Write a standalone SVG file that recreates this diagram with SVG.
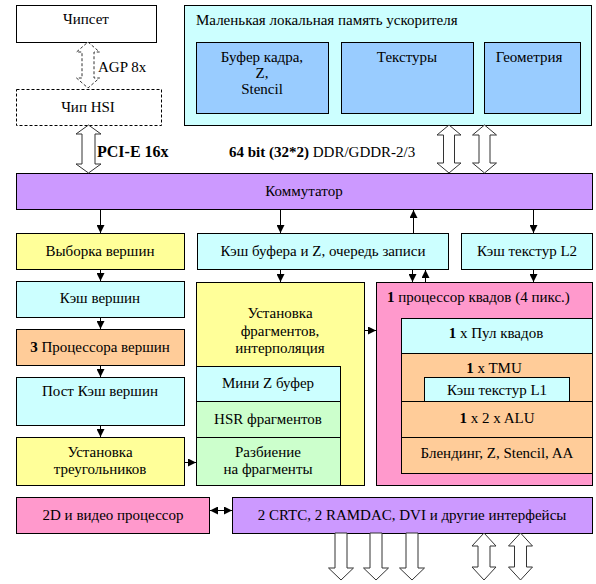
<svg xmlns="http://www.w3.org/2000/svg" width="596" height="584" viewBox="0 0 596 584">
<style>
text{font-family:'Liberation Serif','Times New Roman',serif;font-size:15px;fill:#000}
.c{text-anchor:middle}
.b{font-weight:bold}
rect{stroke:#000;stroke-width:1}
.w{fill:#fff}
.cy{fill:#ccffff}
.bl{fill:#99ccff}
.pu{fill:#cc99ff}
.ye{fill:#ffff99}
.or{fill:#ffcc99}
.gr{fill:#ccffcc}
.pk{fill:#ff99cc}
.ln{stroke:#000;stroke-width:1;fill:none}
.ba{fill:#fff;stroke:#333;stroke-width:1}
</style>
<defs>
<marker id="ah" viewBox="0 0 8 8" refX="8" refY="4" markerWidth="8" markerHeight="8" markerUnits="userSpaceOnUse" orient="auto-start-reverse">
<path d="M0,0 L8,4 L0,8 Z" fill="#000"/>
</marker>
</defs>
<g id="chipset"><rect class="w" x="16.5" y="5.5" width="140" height="37"/><text class="c" x="86" y="24">Чипсет</text></g>
<g id="hsi"><rect class="w" x="16.5" y="89.5" width="145" height="36" stroke-dasharray="3,2"/><text class="c" x="88" y="112">Чип HSI</text></g>
<g id="agp-label"><text x="98" y="72">AGP 8x</text></g>
<g id="pcie-label"><text class="b" x="97" y="157" style="font-size:16px">PCI-E 16x</text></g>
<g id="mem-label"><text x="229" y="157"><tspan class="b">64 bit (32*2)</tspan> DDR/GDDR-2/3</text></g>

<g id="memory">
<rect class="cy" x="184.5" y="5.5" width="407" height="120"/>
<text x="196" y="25">Маленькая локальная память ускорителя</text>
</g>
<g id="framebuffer"><rect class="bl" x="196.5" y="42.5" width="132" height="71"/>
<text class="c" x="262" y="62">Буфер кадра,</text><text class="c" x="262" y="78">Z,</text><text class="c" x="262" y="94">Stencil</text></g>
<g id="textures"><rect class="bl" x="341.5" y="42.5" width="132" height="71"/><text class="c" x="407" y="62">Текстуры</text></g>
<g id="geometry"><rect class="bl" x="484.5" y="42.5" width="96" height="71"/><text class="c" x="529" y="62">Геометрия</text></g>

<g id="switch"><rect class="pu" x="16.5" y="173.5" width="576" height="36"/><text class="c" x="304" y="196">Коммутатор</text></g>

<g id="vfetch"><rect class="ye" x="16.5" y="233.5" width="168" height="36"/><text class="c" x="100" y="256">Выборка вершин</text></g>
<g id="zcache"><rect class="cy" x="197.5" y="233.5" width="251" height="36"/><text class="c" x="323" y="256">Кэш буфера и Z, очередь записи</text></g>
<g id="l2"><rect class="cy" x="461.5" y="233.5" width="131" height="36"/><text class="c" x="527" y="256">Кэш текстур L2</text></g>

<g id="vcache"><rect class="cy" x="16.5" y="281.5" width="168" height="36"/><text class="c" x="100" y="303">Кэш вершин</text></g>
<g id="vproc"><rect class="or" x="16.5" y="329.5" width="168" height="36"/><text class="c" x="100" y="352"><tspan class="b">3</tspan> Процессора вершин</text></g>
<g id="postcache"><rect class="cy" x="16.5" y="377.5" width="168" height="48"/><text class="c" x="100" y="396">Пост Кэш вершин</text></g>
<g id="trisetup"><rect class="ye" x="16.5" y="437.5" width="168" height="48"/><text class="c" x="100" y="457">Установка</text><text class="c" x="100" y="474">треугольников</text></g>

<g id="fragsetup"><rect class="ye" x="196.5" y="282.5" width="168" height="203"/>
<text class="c" x="280" y="318">Установка</text><text class="c" x="280" y="336">фрагментов,</text><text class="c" x="280" y="353">интерполяция</text></g>
<g id="miniz"><rect class="cy" x="196.5" y="366.5" width="144" height="35"/><text class="c" x="268" y="388">Мини Z буфер</text></g>
<g id="hsr"><rect class="gr" x="196.5" y="401.5" width="144" height="36"/><text class="c" x="268" y="424">HSR фрагментов</text></g>
<g id="raster"><rect class="gr" x="196.5" y="437.5" width="144" height="48"/><text class="c" x="268" y="457">Разбиение</text><text class="c" x="268" y="474">на фрагменты</text></g>

<g id="quadproc"><rect class="pk" x="376.5" y="282.5" width="216" height="203"/><text x="387" y="302"><tspan class="b">1</tspan> процессор квадов (4 пикс.)</text></g>
<g id="quadpool"><rect class="cy" x="401.5" y="318.5" width="191" height="35"/><text class="c" x="496" y="338"><tspan class="b">1</tspan> x Пул квадов</text></g>
<g id="tmu"><rect class="or" x="401.5" y="353.5" width="191" height="48"/><text class="c" x="494" y="373"><tspan class="b">1</tspan> x TMU</text></g>
<g id="l1"><rect class="cy" x="424.5" y="377.5" width="145" height="24"/><text class="c" x="497" y="395">Кэш текстур L1</text></g>
<g id="alu"><rect class="or" x="401.5" y="401.5" width="191" height="36"/><text class="c" x="497" y="423"><tspan class="b">1</tspan> x 2 x ALU</text></g>
<g id="blend"><rect class="or" x="401.5" y="437.5" width="191" height="36"/><text class="c" x="497" y="458">Блендинг, Z, Stencil, AA</text></g>

<g id="video2d"><rect class="pk" x="16.5" y="497.5" width="193" height="36"/><text class="c" x="113" y="520">2D и видео процессор</text></g>
<g id="crtc"><rect class="pu" x="232.5" y="497.5" width="360" height="36"/><text class="c" x="412" y="520">2 CRTC, 2 RAMDAC, DVI и другие интерфейсы</text></g>

<g id="connectors">
<path class="ba" stroke-dasharray="3,2" d="M88,42 L99.5,52 L94,52 L94,78 L99.5,78 L88,88 L76.5,78 L82,78 L82,52 L76.5,52 Z"/>
<path class="ba" d="M88.5,125 L101,134 L95,134 L95,164 L101,164 L88.5,173 L76,164 L82,164 L82,134 L76,134 Z"/>
<path class="ba" d="M449,125 L461,135 L454.5,135 L454.5,163 L461,163 L449,173 L437,163 L443.5,163 L443.5,135 L437,135 Z"/>
<path class="ba" d="M484.5,125 L496.5,135 L490,135 L490,163 L496.5,163 L484.5,173 L472.5,163 L479,163 L479,135 L472.5,135 Z"/>
<path class="ba" d="M335,533 L347,533 L347,568 L353.5,568 L341,580 L328.5,568 L335,568 Z"/>
<path class="ba" d="M370,533 L382,533 L382,568 L388.5,568 L376,580 L363.5,568 L370,568 Z"/>
<path class="ba" d="M406,533 L418,533 L418,568 L424.5,568 L412,580 L399.5,568 L406,568 Z"/>
<path class="ba" d="M484,533 L496,546 L490,546 L490,567 L496,567 L484,580 L472,567 L478,567 L478,546 L472,546 Z"/>
<path class="ba" d="M520.5,533 L532.5,546 L526.5,546 L526.5,567 L532.5,567 L520.5,580 L508.5,567 L514.5,567 L514.5,546 L508.5,546 Z"/>

<line class="ln" x1="100.5" y1="210" x2="100.5" y2="233" marker-end="url(#ah)"/>
<line class="ln" x1="280.5" y1="210" x2="280.5" y2="233" marker-end="url(#ah)"/>
<line class="ln" x1="413.5" y1="233" x2="413.5" y2="210" marker-end="url(#ah)"/>
<line class="ln" x1="533.5" y1="210" x2="533.5" y2="233" marker-end="url(#ah)"/>
<line class="ln" x1="100.5" y1="270" x2="100.5" y2="281" marker-end="url(#ah)"/>
<line class="ln" x1="100.5" y1="318" x2="100.5" y2="329" marker-end="url(#ah)"/>
<line class="ln" x1="100.5" y1="366" x2="100.5" y2="377" marker-end="url(#ah)"/>
<line class="ln" x1="100.5" y1="426" x2="100.5" y2="437" marker-end="url(#ah)"/>
<line class="ln" x1="280.5" y1="270" x2="280.5" y2="282" marker-end="url(#ah)"/>
<line class="ln" x1="412.5" y1="270" x2="412.5" y2="282" marker-end="url(#ah)"/>
<line class="ln" x1="425.5" y1="282" x2="425.5" y2="270" marker-end="url(#ah)"/>
<line class="ln" x1="533.5" y1="270" x2="533.5" y2="282" marker-end="url(#ah)"/>
<line class="ln" x1="185" y1="462.5" x2="196" y2="462.5" marker-end="url(#ah)"/>
<line class="ln" x1="365" y1="330.5" x2="376" y2="330.5" marker-end="url(#ah)"/>
<line class="ln" x1="210" y1="510.5" x2="232" y2="510.5" marker-start="url(#ah)" marker-end="url(#ah)"/>
</g>
</svg>
